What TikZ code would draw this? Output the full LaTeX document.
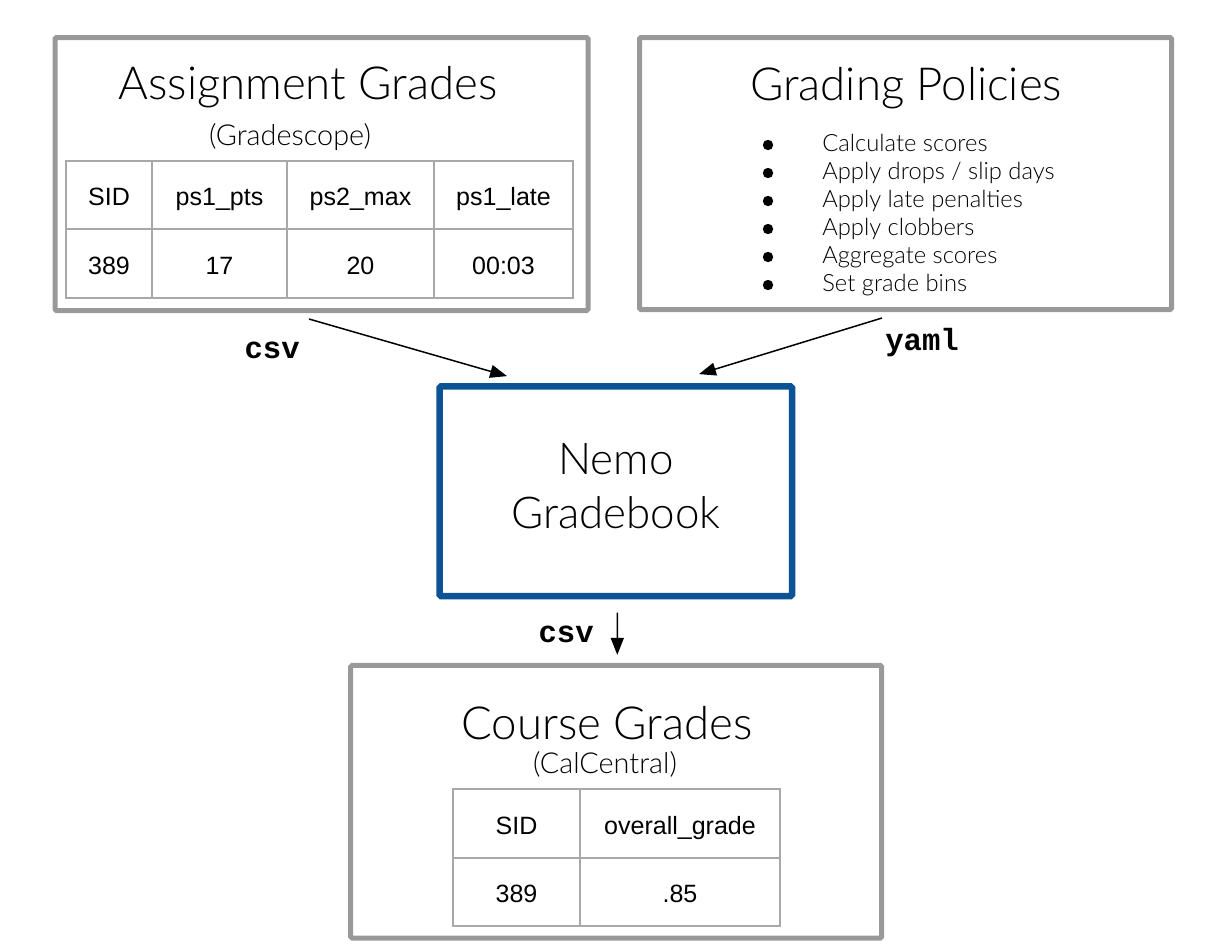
\documentclass[tikz,border=0pt]{standalone}
\usepackage{fontspec}
\setmainfont{Liberation Sans}
\newfontfamily\thinfont{Lato Light}
\newfontfamily\codefont{Liberation Mono}
\usetikzlibrary{arrows.meta}

\definecolor{boxgray}{HTML}{999999}
\definecolor{cellgray}{HTML}{A8A8A8}
\definecolor{nemoblue}{HTML}{0B5394}

\newlength\px
\setlength\px{0.025cm}

\tikzset{
  graybox/.style={draw=boxgray, line width=5\px, rounded corners=1.5\px, inner sep=0pt},
  nemobox/.style={draw=nemoblue, line width=6.5\px, rounded corners=1.5\px, inner sep=0pt},
  cellline/.style={draw=cellgray, line width=2\px},
  flow/.style={-{Triangle[length=12pt,width=9.2pt]}, line width=1.5\px},
  title/.style={font=\thinfont\fontsize{32.4}{38}\selectfont},
  subtitle/.style={font=\thinfont\fontsize{20.5}{24}\selectfont},
  rule/.style={font=\thinfont\fontsize{16.9}{20}\selectfont, inner sep=0pt},
  cell/.style={font=\fontsize{17.8}{20}\selectfont, anchor=base},
  code/.style={font=\codefont\bfseries\fontsize{21.8}{26}\selectfont, inner sep=0pt},
}

\begin{document}
\begin{tikzpicture}[x=\px, y=-\px]
  \useasboundingbox (0,0) rectangle (1212,950);

  % the four boxes
  \node[graybox, minimum width=533\px, minimum height=273\px] (assign) at (321.5,174) {};
  \node[graybox, minimum width=532\px, minimum height=272\px] (policy) at (905.5,173.5) {};
  \node[nemobox, minimum width=352.5\px, minimum height=209.7\px] (nemo) at (615.75,491.2) {};
  \node[graybox, minimum width=531\px, minimum height=272.7\px] (course) at (616.2,801.7) {};

  % assignment grades
  \node[title, anchor=base] (assigntitle) at (308,99.5) {Assignment Grades};
  \node[subtitle, anchor=base] (assignsrc) at (290,145) {(Gradescope)};
  \draw[cellline] (66,161) rectangle (573,298);
  \draw[cellline] (66,229) -- (573,229);
  \foreach \x in {152,287,434}
    \draw[cellline] (\x,161) -- (\x,298);
  \foreach \x/\h/\v [count=\i] in {109/SID/389, 219.5/ps1\_pts/17, 360.5/ps2\_max/20, 503.5/ps1\_late/00:03} {
    \node[cell] (ahead\i) at (\x,205.7) {\h};
    \node[cell] (aval\i) at (\x,274) {\v};
  }

  % grading policies
  \node[title, anchor=base] (policytitle) at (906,100) {Grading Policies};
  \foreach \t [count=\i] in {{Calculate scores}, {Apply drops / slip days}, {Apply late penalties},
      {Apply clobbers}, {Aggregate scores}, {Set grade bins}} {
    \fill (768,{145+28*(\i-1)}) circle[radius=5.2\px];
    \node[rule, anchor=base west] (rule\i) at (822,{151.5+28*(\i-1)}) {\t};
  }

  % nemo
  \node[title, align=center, font=\thinfont\fontsize{31.2}{38.4}\selectfont] (nemotext) at (616,486) {Nemo\\Gradebook};

  % course grades
  \node[title, anchor=base] (coursetitle) at (607,739) {Course Grades};
  \node[subtitle, anchor=base] (coursesrc) at (605,773) {(CalCentral)};
  \draw[cellline] (453,789) rectangle (780,925.7);
  \draw[cellline] (453,857.5) -- (780,857.5);
  \draw[cellline] (580,789) -- (580,925.7);
  \node[cell] (chead1) at (516.5,834) {SID};
  \node[cell] (chead2) at (680,834) {overall\_grade};
  \node[cell] (cval1) at (516.5,902) {389};
  \node[cell] (cval2) at (680,902) {.85};

  % arrows
  \draw[flow] ([shift={(-12.5,6)}]assign.south) -- ([shift={(-108.75,-7)}]nemo.north);
  \draw[flow] ([shift={(-23.5,6)}]policy.south) -- ([shift={(83.25,-9)}]nemo.north);
  \draw[flow] ([shift={(1.5,13.4)}]nemo.south) -- ([shift={(1.1,-8)}]course.north);

  \node[code, anchor=base east] (csvin) at (300,358) {csv};
  \node[code, anchor=base west] (yamlin) at (885,350) {yaml};
  \node[code, anchor=base east] (csvout) at (594,642.7) {csv};
\end{tikzpicture}
\end{document}
